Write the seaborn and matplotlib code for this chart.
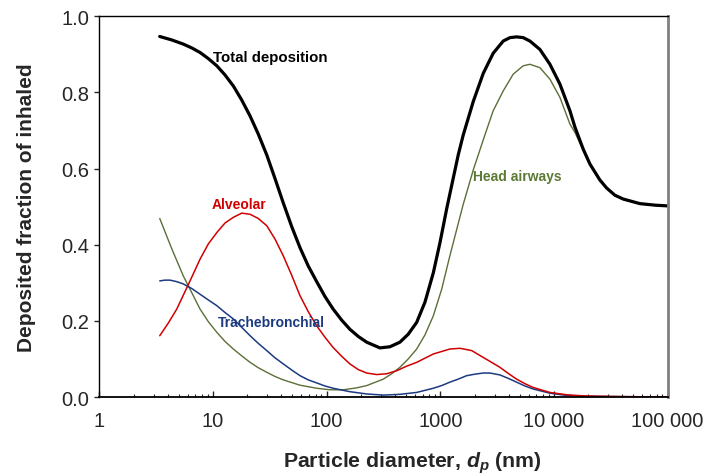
import matplotlib
matplotlib.use("Agg")
import matplotlib.pyplot as plt
import seaborn as sns
import numpy as np
from matplotlib.ticker import FixedLocator, FixedFormatter, LogLocator, NullFormatter

# ---- data ----
d_total = [3.4, 4.33, 5.48, 6.5, 7.69, 9.09, 10.8, 12.75, 15.1, 17.9, 21.2, 25.0, 29.7,
           35.1, 41.5, 49.2, 58.3, 68.9, 81.7, 96.6, 114, 135.5, 160, 189.7, 225, 294,
           360, 441, 522, 619, 732, 867, 992, 1138, 1437, 1589, 1947, 2384, 2917, 3573,
           4093, 4690, 5357, 6138, 7516, 9204, 11270, 13800, 15280, 18070, 20700, 25330,
           29030, 34360, 40620, 56890, 77100, 100000]
f_total = [0.947, 0.938, 0.927, 0.917, 0.905, 0.889, 0.870, 0.846, 0.817, 0.780, 0.738,
           0.691, 0.636, 0.574, 0.510, 0.448, 0.392, 0.344, 0.303, 0.264, 0.231, 0.202,
           0.178, 0.159, 0.144, 0.129, 0.132, 0.144, 0.165, 0.196, 0.249, 0.326, 0.405,
           0.495, 0.636, 0.688, 0.776, 0.850, 0.903, 0.935, 0.944, 0.946, 0.944, 0.935,
           0.913, 0.874, 0.822, 0.752, 0.709, 0.651, 0.612, 0.570, 0.549, 0.530, 0.520,
           0.508, 0.504, 0.502]

d_head = [3.4, 4.33, 5.48, 7.69, 9.09, 10.8, 12.75, 15.1, 17.9, 21.2, 25.0, 29.7, 35.1,
          41.5, 49.2, 58.3, 81.7, 107, 140, 183.6, 225, 315, 373, 441, 522, 619, 732,
          867, 1027, 1213, 1589, 1946, 2483, 2917, 3573, 4375, 5357, 6138, 7516,
          9204, 11270, 13800, 15280, 18070, 20700, 25330, 29030, 34360, 40620, 56890,
          77100, 100000]
f_head = [0.469, 0.390, 0.318, 0.231, 0.198, 0.170, 0.146, 0.126, 0.108, 0.091, 0.077,
          0.065, 0.054, 0.045, 0.038, 0.031, 0.023, 0.019, 0.019, 0.024, 0.030, 0.047,
          0.061, 0.078, 0.100, 0.126, 0.163, 0.213, 0.283, 0.371, 0.506, 0.596,
          0.691, 0.752, 0.804, 0.848, 0.870, 0.874, 0.865, 0.835, 0.787, 0.717, 0.695,
          0.648, 0.610, 0.568, 0.548, 0.529, 0.519, 0.507, 0.503, 0.501]

d_alv = [3.4, 4.04, 4.8, 6.28, 7.69, 9.09, 10.8, 12.75, 15.1, 17.9, 21.2, 25.0, 29.7,
         35.1, 41.5, 49.2, 58.3, 68.9, 81.7, 96.6, 114, 135.5, 160, 189.7, 225, 275,
         337, 413, 505, 619, 867, 1213, 1487, 1884, 2384, 2826, 3343, 3955, 4690, 5546,
         6560, 9200, 12900, 18070, 25330, 40000, 100000]
f_alv = [0.161, 0.194, 0.231, 0.305, 0.362, 0.402, 0.432, 0.457, 0.472, 0.483, 0.480,
         0.469, 0.450, 0.415, 0.371, 0.320, 0.266, 0.224, 0.187, 0.157, 0.130, 0.107,
         0.087, 0.072, 0.063, 0.059, 0.061, 0.069, 0.081, 0.091, 0.113, 0.126, 0.128,
         0.122, 0.104, 0.091, 0.078, 0.062, 0.047, 0.035, 0.025, 0.012, 0.006, 0.003,
         0.002, 0.001, 0.0]

d_tb = [3.4, 3.78, 4.19, 4.8, 5.48, 6.5, 7.69, 9.09, 10.8, 12.75, 15.1, 17.9, 21.2, 25.0,
        29.7, 35.1, 41.5, 49.2, 58.3, 68.9, 81.7, 96.6, 114, 160, 225, 315, 441, 619,
        867, 1027, 1213, 1437, 1702, 2015, 2384, 2730, 3343, 3955, 4690, 5546, 6560,
        9200, 12900, 18070, 100000]
f_tb = [0.305, 0.307, 0.307, 0.303, 0.297, 0.285, 0.270, 0.255, 0.240, 0.222, 0.205,
        0.183, 0.161, 0.141, 0.122, 0.103, 0.087, 0.071, 0.056, 0.045, 0.037, 0.029,
        0.023, 0.014, 0.008, 0.005, 0.007, 0.012, 0.023, 0.030, 0.039, 0.047, 0.056,
        0.060, 0.063, 0.063, 0.058, 0.049, 0.039, 0.029, 0.021, 0.010, 0.004, 0.002, 0.0]

x_ticks = [1, 10, 100, 1000, 10000, 100000]
x_ticklabels = ["1", "10", "100", "1000", "10 000", "100 000"]
y_ticks = [0.0, 0.2, 0.4, 0.6, 0.8, 1.0]
y_ticklabels = ["0.0", "0.2", "0.4", "0.6", "0.8", "1.0"]

# ---- style ----
sns.set_style("ticks")
plt.rcParams["font.family"] = ["Liberation Sans", "DejaVu Sans"]
plt.rcParams["mathtext.fontset"] = "custom"
plt.rcParams["mathtext.rm"] = "Liberation Sans:bold"
plt.rcParams["mathtext.it"] = "Liberation Sans:italic:bold"
plt.rcParams["mathtext.bf"] = "Liberation Sans:bold"

C_HEAD = "#5b6f37"
C_HEAD_TXT = "#5d7a35"
C_ALV = "#d00000"
C_TB = "#1c3a80"
C_TOT = "#000000"

fig = plt.figure(figsize=(7.1, 4.77), dpi=100)
ax = fig.add_axes([0.1399, 0.1656, 0.8005, 0.7981])

sns.lineplot(x=d_head, y=f_head, ax=ax, color=C_HEAD, linewidth=1.0)
sns.lineplot(x=d_tb, y=f_tb, ax=ax, color=C_TB, linewidth=1.1)
sns.lineplot(x=d_alv, y=f_alv, ax=ax, color=C_ALV, linewidth=1.1)
sns.lineplot(x=d_total, y=f_total, ax=ax, color=C_TOT, linewidth=2.3)

ax.set_xscale("log")
ax.set_xlim(1, 100000)
ax.set_ylim(0, 1.0)

ax.xaxis.set_major_locator(FixedLocator(x_ticks))
ax.xaxis.set_major_formatter(FixedFormatter(x_ticklabels))
ax.xaxis.set_minor_locator(LogLocator(base=10, subs=np.arange(2, 10), numticks=20))
ax.xaxis.set_minor_formatter(NullFormatter())
ax.yaxis.set_major_locator(FixedLocator(y_ticks))
ax.yaxis.set_major_formatter(FixedFormatter(y_ticklabels))

ax.tick_params(axis="x", which="major", direction="in", length=4, width=1, labelsize=14.5, pad=10)
ax.tick_params(axis="x", which="minor", direction="in", length=2.5, width=0.8)
ax.tick_params(axis="y", which="major", direction="out", length=3.5, width=1, labelsize=14.5, pad=4)

for s in ["left", "bottom", "top"]:
    ax.spines[s].set_color("black")
    ax.spines[s].set_linewidth(1.0)
ax.spines["bottom"].set_linewidth(1.3)
ax.spines["right"].set_color("#808080")
ax.spines["right"].set_linewidth(2.0)

ax.set_xlabel(r"Particle diameter, $\mathit{d}_{\mathit{p}}$ (nm)", fontsize=15.3,
              fontweight="bold")
ax.xaxis.set_label_coords(0.55, -0.138)
ax.set_ylabel("Deposited fraction of inhaled", fontsize=15, fontweight="bold", labelpad=18)

# curve labels
ax.text(10, 0.893, "Total deposition", color=C_TOT, fontsize=10.8, fontweight="bold", ha="left", va="center")
ax.text(16.8, 0.507, "Alveolar", color=C_ALV, fontsize=10, fontweight="bold", ha="center", va="center")
ax.text(1936, 0.580, "Head airways", color=C_HEAD_TXT, fontsize=10, fontweight="bold", ha="left", va="center")
ax.text(11.07, 0.197, "Trachebronchial", color=C_TB, fontsize=10, fontweight="bold", ha="left", va="center")

fig.savefig("out.png", dpi=100)
